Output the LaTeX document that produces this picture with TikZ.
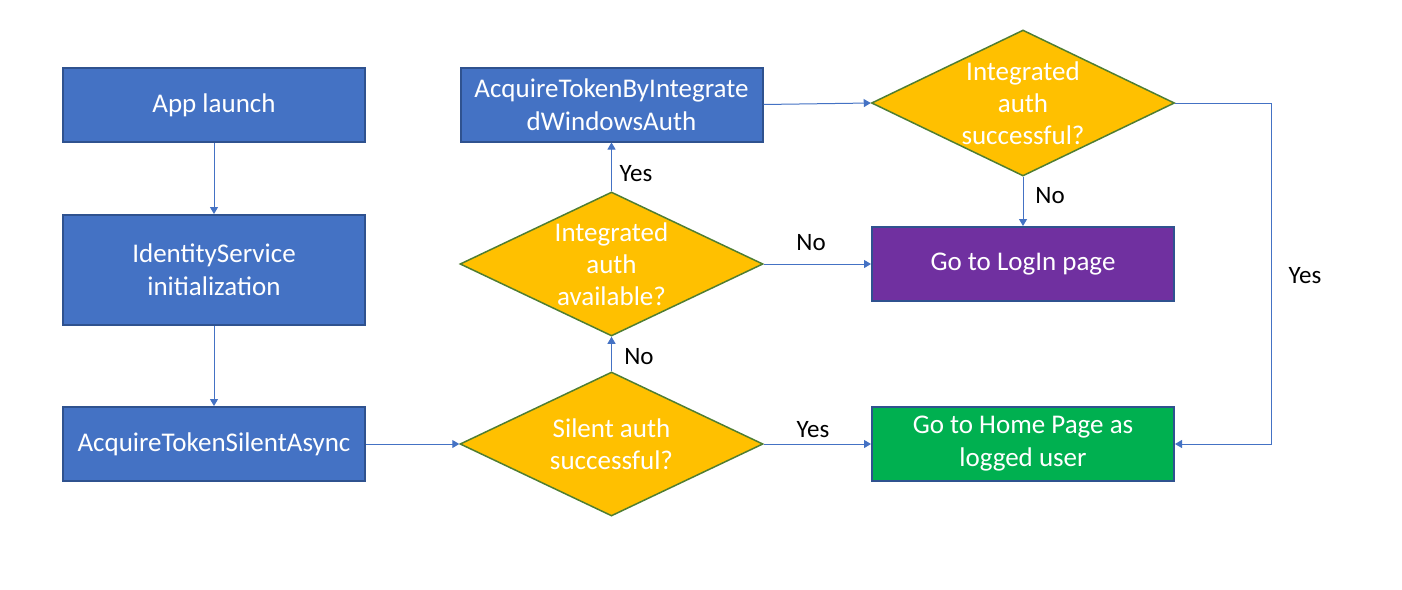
\documentclass[tikz,border=0pt]{standalone}
\usepackage{fontspec}
\setmainfont{Carlito}
\usetikzlibrary{shapes.geometric,arrows.meta}
\definecolor{boxblue}{HTML}{4472C4}
\definecolor{boxedge}{HTML}{2F528F}
\definecolor{dfill}{HTML}{FFC000}
\definecolor{dedge}{HTML}{507E32}
\definecolor{purp}{HTML}{7030A0}
\definecolor{grn}{HTML}{00B050}
\definecolor{arrblue}{HTML}{4472C4}
\tikzset{
  procbox/.style={draw=boxedge, line width=2pt, fill=boxblue, text=white, minimum width=302pt, minimum height=74pt, inner sep=0pt, align=center, font=\fontsize{27}{33}\selectfont},
  decide/.style={shape=diamond, draw=dedge, line width=1.5pt, fill=dfill, minimum width=303pt, minimum height=144pt, inner sep=0pt},
  dtext/.style={text=white, align=center, font=\fontsize{27}{32}\selectfont},
  arr/.style={draw=arrblue, line width=1pt, -{Triangle[width=8pt,length=7pt]}},
  lbl/.style={text=black, font=\fontsize{25}{30}\selectfont}
}
\begin{document}
\begin{tikzpicture}[x=1pt,y=-1pt]
\useasboundingbox[fill=white] (0,0) rectangle (1402,589);
% boxes
\node[procbox] (app) at (214,105) {App launch};
\node[procbox, minimum height=110pt] (ids) at (214,270) {IdentityService\\initialization};
\node[procbox] (silentasync) at (214,444) {AcquireTokenSilentAsync};
\node[procbox] (byint) at (611.5,104.5) {AcquireTokenByIntegrate\\dWindowsAuth};
\node[procbox, fill=purp] (login) at (1023,264) {Go to LogIn page};
\node[procbox, fill=grn] (home) at (1023,444) {Go to Home Page as\\logged user};
% decisions
\node[decide, label={[dtext]center:{Silent auth\\successful?}}] (silent) at (611.5,444) {};
\node[decide, label={[dtext]center:{Integrated\\auth\\available?}}] (avail) at (611.5,264) {};
\node[decide, minimum height=146pt, label={[dtext]center:{Integrated\\auth\\successful?}}] (isucc) at (1023,103) {};
\coordinate (loopc) at (1271,103);
% connectors
\draw[arr] (app) -- (ids);
\draw[arr] (ids) -- (silentasync);
\draw[arr] (silentasync) -- (silent);
\draw[arr] (silent) -- (home);
\draw[arr] (silent) -- (avail);
\draw[arr] (avail) -- (login);
\draw[arr] (avail) -- (byint);
\draw[arr] (byint.east) -- (isucc.west);
\draw[arr] (isucc) -- (login);
\draw[arr] (isucc.east) -- (loopc) |- (home.east);
% labels
\node[lbl] (l1) at (636,174) {Yes};
\node[lbl] (l2) at (639,357) {No};
\node[lbl] (l3) at (811,243) {No};
\node[lbl] (l4) at (813,430) {Yes};
\node[lbl] (l5) at (1050,196) {No};
\node[lbl] (l6) at (1305,276) {Yes};
\end{tikzpicture}
\end{document}
